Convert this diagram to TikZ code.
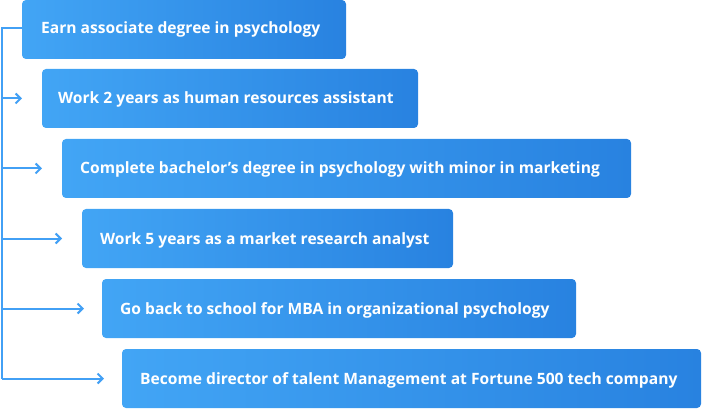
\documentclass[tikz,border=0pt]{standalone}
\usepackage{fontspec}
\setmainfont{Open Sans}
\usetikzlibrary{arrows.meta}
\definecolor{boxL}{HTML}{42A5F5}
\definecolor{boxR}{HTML}{2882E0}
\definecolor{lineC}{HTML}{42A0F5}
\tikzset{
  stepbox/.style={draw=none, rounded corners=4pt, left color=boxL, right color=boxR},
  steptext/.style={text=white, font=\bfseries\fontsize{15.6}{18}\selectfont, anchor=base west, inner sep=0pt},
  conn/.style={draw=lineC, line width=2pt, -{Straight Barb[length=5pt,width=10pt]}},
  trunk/.style={draw=lineC, line width=2pt}
}
\begin{document}
\begin{tikzpicture}[x=1pt,y=1pt]
\useasboundingbox (0,0) rectangle (702,-409);
\path[stepbox] (22,0) rectangle (346,-59);
\node[steptext] (b1) at (41,-34) {Earn associate degree in psychology};
\path[stepbox] (42,-69) rectangle (418,-128);
\node[steptext] (b2) at (58,-104) {Work 2 years as human resources assistant};
\path[stepbox] (62,-139) rectangle (631,-198);
\node[steptext] (b3) at (80,-174) {Complete bachelor’s degree in psychology with minor in marketing};
\path[stepbox] (82,-209) rectangle (453,-268);
\node[steptext] (b4) at (100,-244) {Work 5 years as a market research analyst};
\path[stepbox] (102,-279) rectangle (576,-338);
\node[steptext] (b5) at (120,-314) {Go back to school for MBA in organizational psychology};
\path[stepbox] (122,-349) rectangle (701,-408);
\node[steptext] (b6) at (140,-384) {Become director of talent Management at Fortune 500 tech company};
\coordinate (top) at (2,-28.5);
\coordinate (bot) at (2,-378.5);
\draw[trunk] (22,-28.5) -- (top) -- (bot);
\coordinate (a2) at (2,-98.5);
\coordinate (a3) at (2,-168.5);
\coordinate (a4) at (2,-238.5);
\coordinate (a5) at (2,-308.5);
\draw[conn] (a2) -- (22,-98.5);
\draw[conn] (a3) -- (42,-168.5);
\draw[conn] (a4) -- (62,-238.5);
\draw[conn] (a5) -- (84,-308.5);
\draw[conn] (bot) -- (104,-378.5);
\end{tikzpicture}
\end{document}
